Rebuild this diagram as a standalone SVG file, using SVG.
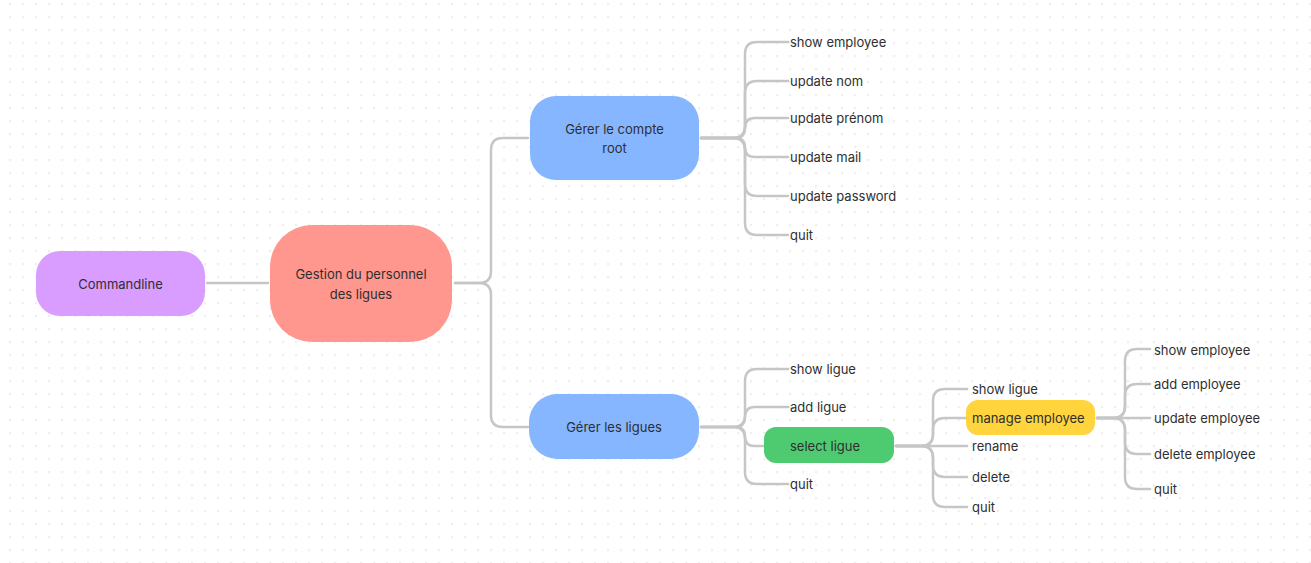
<svg xmlns="http://www.w3.org/2000/svg" width="1311" height="563" viewBox="0 0 1311 563">
<defs>
<pattern id="dots" x="9.3" y="3.3" width="13" height="13" patternUnits="userSpaceOnUse">
<rect x="0" y="0" width="1.5" height="1.5" fill="#dcdcdc"/>
</pattern>
<style>
text{font-family:Inter,"Noto Sans","Liberation Sans",sans-serif;font-size:13px;fill:#2f2f2f;dominant-baseline:central}
.c{text-anchor:middle}
.conn path{fill:none;stroke:#c6c6c6;stroke-width:2.5;stroke-linecap:round;stroke-linejoin:round}
</style>
</defs>
<rect width="1311" height="563" fill="#ffffff"/>
<rect width="1311" height="563" fill="url(#dots)"/>
<g id="connectors" class="conn">
<path d="M207 283 H268"/>
<path d="M455 283 H479 Q491 283 491 271 V150 Q491 138 503 138 H528"/>
<path d="M455 283 H479 Q491 283 491 295 V415 Q491 427 503 427 H528"/>
<path d="M701 138 H733 Q745 138 745 126 V54 Q745 42 757 42 H788"/>
<path d="M701 138 H733 Q745 138 745 126 V93 Q745 81 757 81 H788"/>
<path d="M701 138 H735 Q745 138 745 128 Q745 118 755 118 H788"/>
<path d="M701 138 H735.5 Q745 138 745 147.5 Q745 157 754.5 157 H788"/>
<path d="M701 138 H733 Q745 138 745 150 V184 Q745 196 757 196 H788"/>
<path d="M701 138 H733 Q745 138 745 150 V223 Q745 235 757 235 H788"/>
<path d="M701 427 H733 Q745 427 745 415 V381 Q745 369 757 369 H788"/>
<path d="M701 427 H735 Q745 427 745 417 Q745 407 755 407 H788"/>
<path d="M701 427 H735.5 Q745 427 745 436.5 Q745 446 754.5 446 H763"/>
<path d="M701 427 H733 Q745 427 745 439 V472 Q745 484 757 484 H788"/>
<path d="M896 446 H921 Q933 446 933 434 V401 Q933 389 945 389 H967"/>
<path d="M896 446 H921 Q933 446 933 434 V430 Q933 418 945 418 H966"/>
<path d="M896 446 H967"/>
<path d="M896 446 H921 Q933 446 933 458 V465 Q933 477 945 477 H967"/>
<path d="M896 446 H921 Q933 446 933 458 V495 Q933 507 945 507 H967"/>
<path d="M1097 418 H1113 Q1125 418 1125 406 V361 Q1125 349 1137 349 H1150"/>
<path d="M1097 418 H1113 Q1125 418 1125 406 V396 Q1125 384 1137 384 H1150"/>
<path d="M1097 418 H1150"/>
<path d="M1097 418 H1113 Q1125 418 1125 430 V442 Q1125 454 1137 454 H1150"/>
<path d="M1097 418 H1113 Q1125 418 1125 430 V477 Q1125 489 1137 489 H1150"/>
</g>
<g id="commandline"><rect x="36" y="251" width="169" height="65" rx="24" fill="#d99cff"/><text class="c" x="120.5" y="284">Commandline</text></g>
<g id="gestion"><rect x="270" y="225" width="182" height="117" rx="42" fill="#ff978e"/><text class="c" x="361" y="274">Gestion du personnel</text><text class="c" x="361" y="294">des ligues</text></g>
<g id="compte-root"><rect x="530" y="96" width="169" height="84" rx="26" fill="#86b6ff"/><text class="c" x="614.5" y="129">Gérer le compte</text><text class="c" x="614.5" y="148">root</text></g>
<g id="ligues"><rect x="529" y="394" width="170" height="65" rx="28" fill="#86b6ff"/><text class="c" x="614" y="427">Gérer les ligues</text></g>
<g id="root-show"><text x="790" y="42">show employee</text></g>
<g id="root-nom"><text x="790" y="81">update nom</text></g>
<g id="root-prenom"><text x="790" y="118">update prénom</text></g>
<g id="root-mail"><text x="790" y="157">update mail</text></g>
<g id="root-password"><text x="790" y="196">update password</text></g>
<g id="root-quit"><text x="790" y="235">quit</text></g>
<g id="ligues-show"><text x="790" y="369">show ligue</text></g>
<g id="ligues-add"><text x="790" y="407">add ligue</text></g>
<g id="select-ligue"><rect x="764" y="427" width="130" height="36" rx="12" fill="#4ecb71"/><text x="790" y="446">select ligue</text></g>
<g id="ligues-quit"><text x="790" y="484">quit</text></g>
<g id="sel-show"><text x="972" y="389">show ligue</text></g>
<g id="manage-employee"><rect x="966" y="400" width="129" height="35" rx="12" fill="#ffd43c"/><text x="972" y="418">manage employee</text></g>
<g id="sel-rename"><text x="972" y="446">rename</text></g>
<g id="sel-delete"><text x="972" y="477">delete</text></g>
<g id="sel-quit"><text x="972" y="507">quit</text></g>
<g id="emp-show"><text x="1154" y="350">show employee</text></g>
<g id="emp-add"><text x="1154" y="384">add employee</text></g>
<g id="emp-update"><text x="1154" y="418">update employee</text></g>
<g id="emp-delete"><text x="1154" y="454">delete employee</text></g>
<g id="emp-quit"><text x="1154" y="489">quit</text></g>
</svg>
